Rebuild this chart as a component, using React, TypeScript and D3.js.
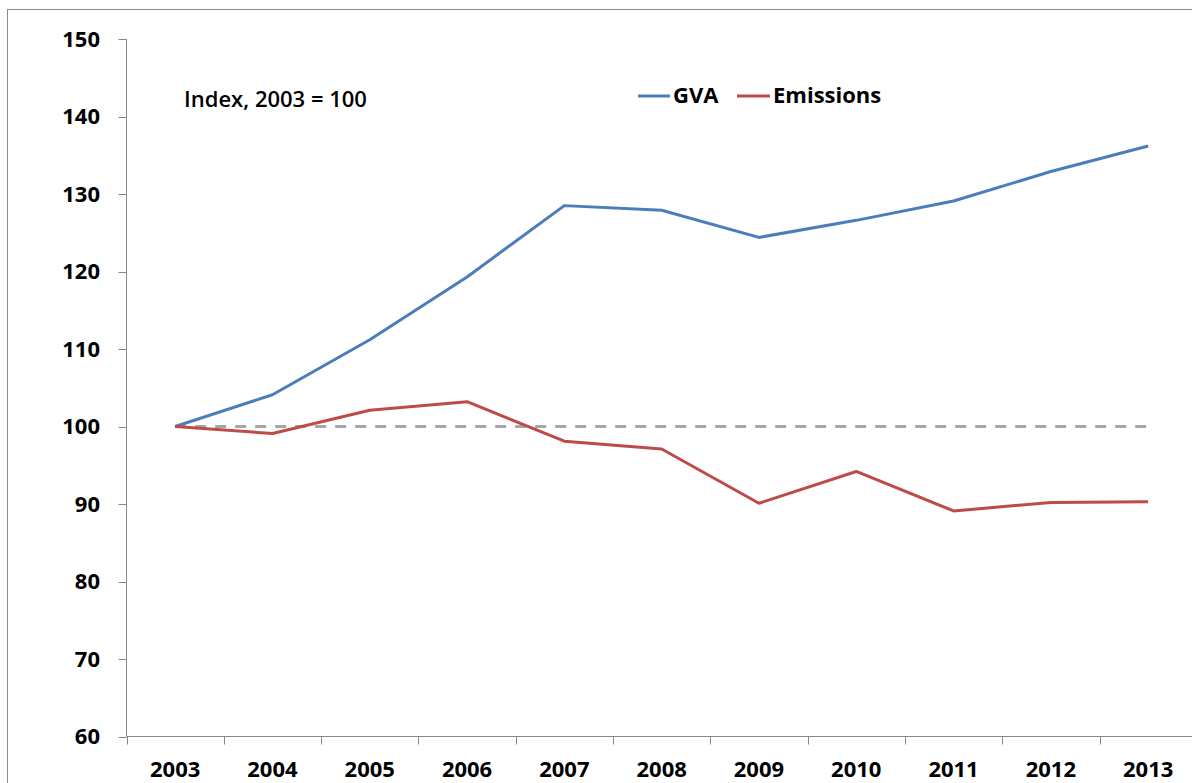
import React from "react";
import * as d3 from "d3";

const years = ["2003","2004","2005","2006","2007","2008","2009","2010","2011","2012","2013"];
const gva = [100, 104.1, 111.2, 119.3, 128.5, 127.9, 124.4, 126.6, 129.1, 132.9, 136.2];
const emissions = [100, 99.1, 102.1, 103.2, 98.1, 97.1, 90.1, 94.2, 89.1, 90.2, 90.3];
const yTicks = [60, 70, 80, 90, 100, 110, 120, 130, 140, 150];
const seriesNames = ["GVA", "Emissions"];
const baselineValue = 100;
const noteText = "Index, 2003 = 100";

const W = 1192, H = 783;
const FONT = "'Open Sans', Lato, sans-serif";
const BLUE = "#4A7EBB";
const RED = "#BE4B48";
const AXIS = "#868686";

export default function App() {
  const x = d3.scaleBand<string>().domain(years).range([126.5, 126.5 + 11 * 97.3]).padding(0);
  const y = d3.scaleLinear().domain([60, 150]).range([736.5, 39]);
  const cx = (yr: string) => (x(yr) as number) + x.bandwidth() / 2;
  const line = d3.line<number>().x((_, i) => cx(years[i])).y((d) => y(d));
  const x0 = 126.5;
  const yBase = y(60);
  const boundaries = years.map((yr) => x(yr) as number).concat([(x(years[years.length - 1]) as number) + x.bandwidth()]);

  return (
    <svg width={W} height={H} style={{ position: "absolute", left: 0, top: 0, background: "#fff" }} fontFamily={FONT}>
      <rect x={0} y={0} width={W} height={H} fill="#fff" />
      {/* chart frame */}
      <line x1={7} y1={9.5} x2={W} y2={9.5} stroke="#8a8a8a" strokeWidth={1} />
      <line x1={7.5} y1={9} x2={7.5} y2={H} stroke="#8a8a8a" strokeWidth={1} />

      {/* y axis */}
      <line x1={x0} y1={y(150)} x2={x0} y2={yBase} stroke={AXIS} strokeWidth={1} />
      {yTicks.map((t) => (
        <g key={t}>
          <line x1={x0 - 8} x2={x0} y1={Math.round(y(t)) + 0.5} y2={Math.round(y(t)) + 0.5} stroke={AXIS} />
          <text x={100} y={y(t)} dy="0.36em" textAnchor="end" fontSize={22} fontWeight={700} fill="#000">{t}</text>
        </g>
      ))}

      {/* x axis */}
      <line x1={x0} y1={yBase} x2={W} y2={yBase} stroke={AXIS} strokeWidth={1} />
      {boundaries.map((b, i) => (
        <line key={i} x1={Math.round(b) + 0.5} x2={Math.round(b) + 0.5} y1={yBase} y2={yBase + 8} stroke={AXIS} />
      ))}
      {years.map((yr) => (
        <text key={yr} x={cx(yr)} y={777} textAnchor="middle" fontSize={22} fontWeight={700} fill="#000">{yr}</text>
      ))}

      {/* baseline 100 dashed */}
      <line x1={cx(years[0])} x2={cx(years[years.length - 1])} y1={y(baselineValue)} y2={y(baselineValue)}
        stroke="#A6A6A6" strokeWidth={3} strokeDasharray="11,9" />

      {/* series */}
      <path d={line(gva) || ""} fill="none" stroke={BLUE} strokeWidth={3} strokeLinejoin="round" />
      <path d={line(emissions) || ""} fill="none" stroke={RED} strokeWidth={3} strokeLinejoin="round" />

      {/* note */}
      <text x={184} y={107} fontSize={22} fontWeight={600} fill="#000">{noteText}</text>

      {/* legend */}
      <line x1={638} x2={670} y1={96} y2={96} stroke={BLUE} strokeWidth={3} />
      <text x={673} y={103} fontSize={22} fontWeight={700} fill="#000">{seriesNames[0]}</text>
      <line x1={737} x2={770} y1={96} y2={96} stroke={RED} strokeWidth={3} />
      <text x={773} y={103} fontSize={22} fontWeight={700} fill="#000">{seriesNames[1]}</text>
    </svg>
  );
}
